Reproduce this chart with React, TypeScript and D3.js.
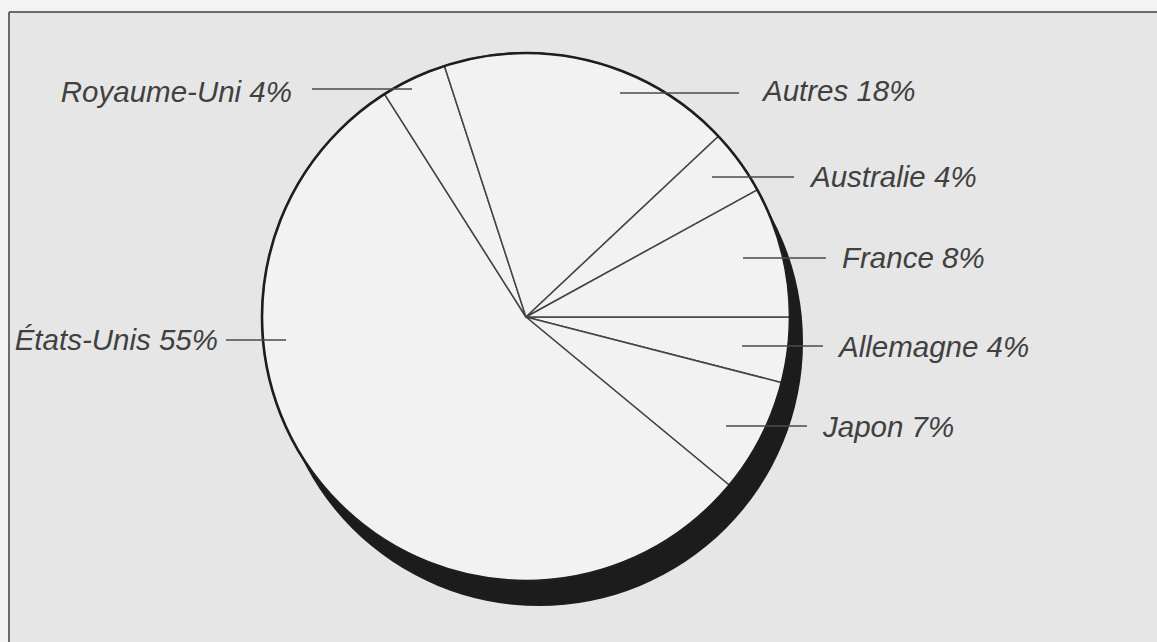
import React from "react";
import * as d3 from "d3";

// Data (clockwise from 3 o'clock)
const countries = ["Allemagne", "Japon", "États-Unis", "Royaume-Uni", "Autres", "Australie", "France"];
const shares = [4, 7, 55, 4, 18, 4, 8];

// Annotation layout (leader lines & labels)
const labelLayout: Record<string, { y: number; x1: number; x2: number; side: "left" | "right"; dy: number; gap: number }> = {
  "Royaume-Uni": { y: 89, x1: 312, x2: 412, side: "left", dy: 13, gap: 20 },
  "Autres": { y: 93, x1: 620, x2: 739, side: "right", dy: 8, gap: 24 },
  "Australie": { y: 177, x1: 712, x2: 794, side: "right", dy: 10, gap: 17 },
  "France": { y: 258, x1: 743, x2: 826, side: "right", dy: 10, gap: 16 },
  "Allemagne": { y: 346, x1: 742, x2: 823, side: "right", dy: 11, gap: 16 },
  "Japon": { y: 426, x1: 726, x2: 807, side: "right", dy: 11, gap: 16 },
  "États-Unis": { y: 340, x1: 226, x2: 286, side: "left", dy: 10, gap: 8 },
};

const W = 1157;
const H = 642;
const cx = 526;
const cy = 317;
const R = 264;

export default function App() {
  const pie = d3
    .pie<number>()
    .sort(null)
    .value((d) => d)
    .startAngle(Math.PI / 2)
    .endAngle(Math.PI / 2 + 2 * Math.PI);
  const arcs = pie(shares);
  const arc = d3.arc<d3.PieArcDatum<number>>().innerRadius(0).outerRadius(R);
  const full = d3.arc()({ innerRadius: 0, outerRadius: R, startAngle: 0, endAngle: 2 * Math.PI }) as string;

  return (
    <svg
      width={W}
      height={H}
      style={{ position: "absolute", left: 0, top: 0, display: "block" }}
      fontFamily="'Liberation Sans', Arial, sans-serif"
    >
      <rect x={0} y={0} width={W} height={H} fill="#f3f3f3" />
      <rect x={9} y={12} width={W} height={H} fill="#e6e6e6" />
      <line x1={9} y1={12} x2={W} y2={12} stroke="#6a6a6a" strokeWidth={2} />
      <line x1={9} y1={12} x2={9} y2={H} stroke="#6a6a6a" strokeWidth={2} />

      <g transform={`translate(${cx},${cy})`}>
        {/* shadow */}
        <path d={full} transform="translate(13,25)" fill="#1c1c1c" />
        {arcs.map((a, i) => (
          <path key={i} d={arc(a) as string} fill="#f2f2f2" stroke="#444" strokeWidth={1.5} strokeLinejoin="round" />
        ))}
        <path d={full} fill="none" stroke="#1e1e1e" strokeWidth={2.6} />
      </g>

      {countries.map((c, i) => {
        const l = labelLayout[c];
        const text = `${c} ${shares[i]}%`;
        return (
          <g key={c}>
            <line x1={l.x1} y1={l.y} x2={l.x2} y2={l.y} stroke="#4a4a4a" strokeWidth={1.5} />
            <text
              x={l.side === "left" ? l.x1 - l.gap : l.x2 + l.gap}
              y={l.y + l.dy}
              textAnchor={l.side === "left" ? "end" : "start"}
              fontSize={29.5}
              fontStyle="italic"
              fill="#404040"
            >
              {text}
            </text>
          </g>
        );
      })}
    </svg>
  );
}
